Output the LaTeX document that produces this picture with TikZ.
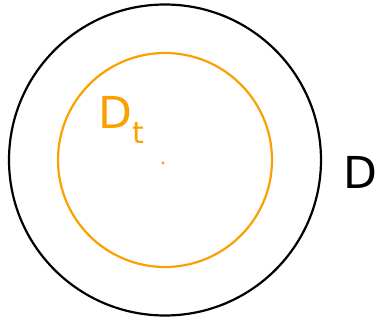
\documentclass[tikz,border=0pt]{standalone}
\usepackage{fontspec}
\setmainfont{DejaVu Sans}
\definecolor{inkorange}{RGB}{250,160,0}
\newcommand{\subtxt}[1]{\raisebox{-0.35em}{\fontsize{30}{30}\selectfont #1}}
\begin{document}
\begin{tikzpicture}[x=1pt, y=-1pt,
    outer/.style={draw=black, line width=2.2pt},
    inner/.style={draw=inkorange, line width=2.2pt},
    hand/.style={font=\fontsize{44}{44}\selectfont, inner sep=0pt}]
  \useasboundingbox (0,0) rectangle (380,320);
  \coordinate (c) at (165,160);
  \draw[outer] (c) circle[x radius=156, y radius=155.5];
  \draw[inner] (c) circle[radius=107];
  \fill[inkorange] (163,163) circle[radius=1.6];
  \node[hand, text=inkorange] (dt) at (121,120) {D\subtxt{t}};
  \node[hand, text=black] (d) at (360,172) {D};
\end{tikzpicture}
\end{document}
